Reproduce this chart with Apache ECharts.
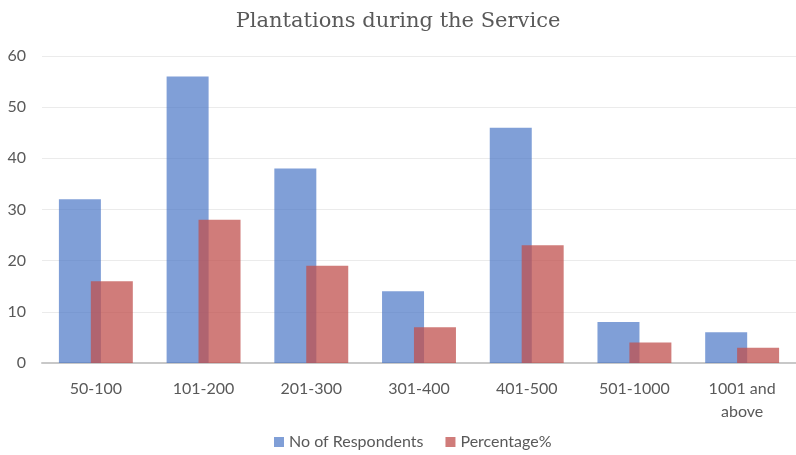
<!DOCTYPE html>
<html><head><meta charset="utf-8">
<script src="https://cdn.jsdelivr.net/npm/echarts@6/dist/echarts.min.js"></script>
<style>html,body{margin:0;padding:0;background:#fff}#c{width:796px;height:455px}</style>
</head><body><div id="c"></div>
<script>
const categories = ['50-100','101-200','201-300','301-400','401-500','501-1000','1001 and\nabove'];
const respondents = [32,56,38,14,46,8,6];
const percentage = [16,28,19,7,23,4,3];
const yTicks = {min:0, max:60, interval:10};

const chart = echarts.init(document.getElementById('c'));
chart.setOption({
  animation:false,
  title:{text:'Plantations during the Service', left:'center', top:6,
    textStyle:{fontFamily:'DejaVu Serif', fontSize:21, fontWeight:'normal', color:'#595959'}},
  legend:{bottom:0, left:269, itemWidth:10, itemHeight:10, itemGap:22, icon:'rect',
    textStyle:{fontFamily:'Lato', fontSize:16, color:'#595959'}},
  grid:{left:42, right:-3, top:56, bottom:92},
  xAxis:{type:'category', data:categories,
    axisLine:{lineStyle:{color:'#c8c8c8', width:2}}, axisTick:{show:false},
    axisLabel:{fontFamily:'Lato', fontSize:16, color:'#595959', margin:14, lineHeight:23}},
  yAxis:{type:'value', min:yTicks.min, max:yTicks.max, interval:yTicks.interval,
    axisLine:{show:false}, axisTick:{show:false},
    splitLine:{lineStyle:{color:'#ebebeb'}},
    axisLabel:{fontFamily:'Lato', fontSize:16, color:'#595959', margin:16}},
  series:[
    {name:'No of Respondents', type:'bar', data:respondents, barWidth:42, barGap:'-24%',
      itemStyle:{color:'rgba(68,114,196,0.68)'}},
    {name:'Percentage%', type:'bar', data:percentage, barWidth:42,
      itemStyle:{color:'rgba(192,80,77,0.75)'}}
  ]
});
</script></body></html>
